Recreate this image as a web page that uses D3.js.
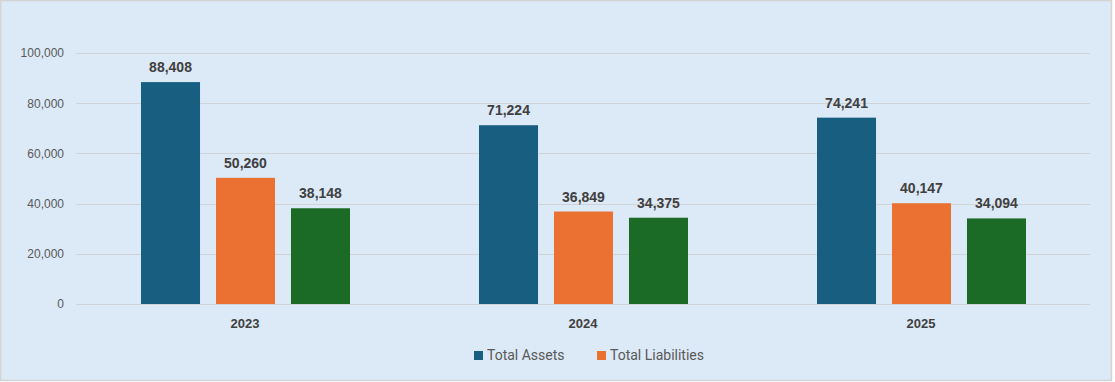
<!DOCTYPE html>
<html>
<head>
<meta charset="utf-8">
<script src="https://cdn.jsdelivr.net/npm/d3@7"></script>
<style>
  body { margin: 0; background: #fff; }
  svg { display: block; font-family: "Liberation Sans", Arial, sans-serif; }
</style>
</head>
<body>
<div id="container"></div>
<script>
// chart data
var years = ["2023", "2024", "2025"];
var seriesNames = ["Total Assets", "Total Liabilities", "Total Equity"];
var totalAssets = [88408, 71224, 74241];
var totalLiabilities = [50260, 36849, 40147];
var totalEquity = [38148, 34375, 34094];
var yTicks = [0, 20000, 40000, 60000, 80000, 100000];
var legendNames = ["Total Assets", "Total Liabilities"];

var colors = ["#175e80", "#eb7133", "#1b6b26"];

var W = 1115, H = 382;
var margin = { top: 53, right: 25, bottom: 78, left: 76 };
var width = W - margin.left - margin.right;   // 1014
var height = H - margin.top - margin.bottom;  // 251

var svg = d3.select("#container").append("svg")
  .attr("width", W)
  .attr("height", H);

// background + border
svg.append("rect")
  .attr("x", 0.5).attr("y", 0.5)
  .attr("width", W - 4).attr("height", H - 2)
  .attr("fill", "#dce9f6")
  .attr("stroke", "#d4d4d4")
  .attr("stroke-width", 1.5);

var g = svg.append("g")
  .attr("transform", "translate(" + margin.left + "," + margin.top + ")");

var yScale = d3.scaleLinear()
  .domain([0, 100000])
  .range([height, 0]);

var x0 = d3.scaleBand()
  .domain(years)
  .range([0, width])
  .padding(0);

var x1 = d3.scaleBand()
  .domain(seriesNames)
  .range([65, x0.bandwidth() - 64])
  .paddingInner(0.213)
  .paddingOuter(0);

// gridlines
g.append("g")
  .selectAll("line")
  .data(yTicks)
  .enter()
  .append("line")
  .attr("x1", 0)
  .attr("x2", width)
  .attr("y1", function(d) { return Math.round(yScale(d)) + 0.5; })
  .attr("y2", function(d) { return Math.round(yScale(d)) + 0.5; })
  .attr("stroke", "#d0d4d9")
  .attr("stroke-width", 1);

// y axis labels
var yAxis = d3.axisLeft(yScale)
  .tickValues(yTicks)
  .tickSize(0)
  .tickPadding(12)
  .tickFormat(d3.format(","));

var yg = g.append("g").call(yAxis);
yg.select(".domain").remove();
yg.selectAll("text")
  .attr("fill", "#595959")
  .style("font-size", "12px");

// x axis labels
var xAxis = d3.axisBottom(x0).tickSize(0).tickPadding(15);
var xg = g.append("g")
  .attr("transform", "translate(0," + height + ")")
  .call(xAxis);
xg.select(".domain").remove();
xg.selectAll("text")
  .attr("fill", "#404040")
  .style("font-size", "13px")
  .style("font-weight", "bold");

// rows
var rows = years.map(function(y, i) {
  return {
    year: y,
    values: [totalAssets[i], totalLiabilities[i], totalEquity[i]].map(function(v, j) {
      return { name: seriesNames[j], value: v, idx: j };
    })
  };
});

var groups = g.selectAll(".grp")
  .data(rows)
  .enter()
  .append("g")
  .attr("class", "grp")
  .attr("transform", function(d) { return "translate(" + x0(d.year) + ",0)"; });

groups.selectAll("rect")
  .data(function(d) { return d.values; })
  .enter()
  .append("rect")
  .attr("x", function(d) { return x1(d.name); })
  .attr("width", x1.bandwidth())
  .attr("y", function(d) { return yScale(d.value); })
  .attr("height", function(d) { return height - yScale(d.value); })
  .attr("fill", function(d) { return colors[d.idx]; });

groups.selectAll("text")
  .data(function(d) { return d.values; })
  .enter()
  .append("text")
  .attr("x", function(d) { return x1(d.name) + x1.bandwidth() / 2; })
  .attr("y", function(d) { return yScale(d.value) - 10; })
  .attr("text-anchor", "middle")
  .attr("fill", "#404040")
  .style("font-size", "14px")
  .style("font-weight", "bold")
  .text(function(d) { return d3.format(",")(d.value); });

// legend
var legend = svg.append("g").attr("transform", "translate(474,355)");
var lx = [0, 123];
legendNames.forEach(function(n, i) {
  legend.append("rect")
    .attr("x", lx[i]).attr("y", -4)
    .attr("width", 9).attr("height", 9)
    .attr("fill", colors[i]);
  legend.append("text")
    .attr("x", lx[i] + 13).attr("y", 5)
    .attr("fill", "#595959")
    .style("font-size", "14px")
    .style("font-family", "Roboto, sans-serif")
    .text(n);
});
</script>
</body>
</html>
